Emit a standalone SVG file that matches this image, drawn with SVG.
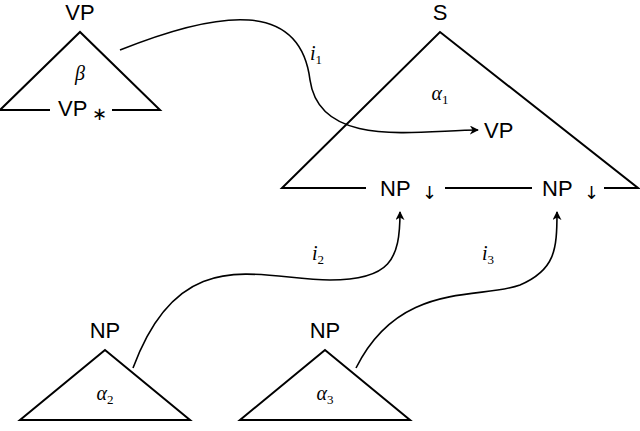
<svg xmlns="http://www.w3.org/2000/svg" width="640" height="431" viewBox="0 0 640 431">
<style>
.t{font-family:"Liberation Sans",Arial,sans-serif;font-size:22px;fill:#000}
.g{font-family:"DejaVu Sans",sans-serif;font-size:18px;fill:#000}
.m{font-family:"Liberation Serif","Times New Roman",serif;font-style:italic;font-size:20px;fill:#000}
.s{font-family:"Liberation Serif","Times New Roman",serif;font-style:normal;font-size:13px}
.l{fill:none;stroke:#000;stroke-width:2}
.c{fill:none;stroke:#000;stroke-width:1.6;marker-end:url(#a)}
</style>
<defs><marker id="a" viewBox="0 0 10 10" refX="9" refY="5" markerWidth="9" markerHeight="9" markerUnits="userSpaceOnUse" orient="auto"><path d="M0,0L10,5L0,10L3,5z" fill="#000"/></marker></defs>
<rect width="640" height="431" fill="#fff"/>
<g id="beta">
<text class="t" x="80" y="20" text-anchor="middle">VP</text>
<path class="l" d="M50,110H0L80,32L160,110H112"/>
<text class="m" x="80" y="80" text-anchor="middle">β</text>
<text class="t" x="58" y="116">VP</text><text class="g" x="92" y="120">∗</text>
</g>
<g id="alpha1">
<text class="t" x="440" y="20" text-anchor="middle">S</text>
<path class="l" d="M366,188H282L440,32L638,188H604M445,188H532"/>
<text class="m" x="440" y="100" text-anchor="middle">α<tspan class="s" dy="4">1</tspan></text>
<text class="t" x="484" y="138">VP</text>
<text class="t" x="380" y="196">NP</text><text class="g" x="422" y="199">↓</text>
<text class="t" x="542" y="196">NP</text><text class="g" x="584" y="199">↓</text>
</g>
<g id="alpha2">
<text class="t" x="105" y="338" text-anchor="middle">NP</text>
<path class="l" d="M105,350L20,420H190Z"/>
<text class="m" x="105" y="400" text-anchor="middle">α<tspan class="s" dy="4">2</tspan></text>
</g>
<g id="alpha3">
<text class="t" x="325" y="338" text-anchor="middle">NP</text>
<path class="l" d="M325,350L240,420H410Z"/>
<text class="m" x="325" y="400" text-anchor="middle">α<tspan class="s" dy="4">3</tspan></text>
</g>
<g id="connectors">
<path class="c" d="M120,50C220,10 300,0 310,80C320,150 420,130 478,130"/>
<path class="c" d="M133,368C180,240 260,280 330,280C390,280 400,260 400,212"/>
<path class="c" d="M356,368C400,280 480,300 520,285C555,270 557,250 557,212"/>
<text class="m" x="310" y="60">i<tspan class="s" dy="4">1</tspan></text>
<text class="m" x="312" y="260">i<tspan class="s" dy="4">2</tspan></text>
<text class="m" x="482" y="260">i<tspan class="s" dy="4">3</tspan></text>
</g>
</svg>
